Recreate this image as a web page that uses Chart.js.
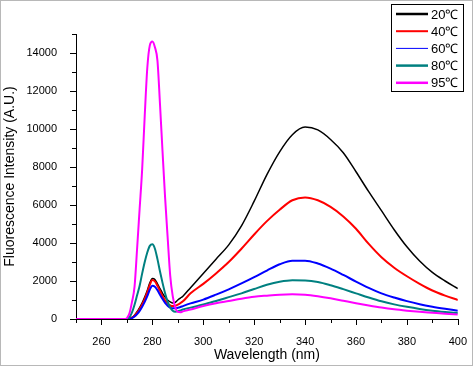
<!DOCTYPE html>
<html>
<head>
<meta charset="utf-8">
<script src="https://cdn.jsdelivr.net/npm/chart.js@4"></script>
<style>
  html, body { margin: 0; padding: 0; background: #fff; }
  canvas { display: block; }
</style>
</head>
<body>
<canvas id="chart" width="475" height="367"></canvas>
<script>
const wavelengths = [250, 260, 265, 268,
    269, 270, 271, 272, 273, 274, 275, 276, 277, 278, 279, 280,
    281, 282, 283, 284, 285, 286, 287, 288, 289, 290, 291, 292,
    295, 300, 305, 310, 315, 320, 325, 330, 335, 340, 345, 350,
    355, 360, 365, 370, 375, 380, 385, 390, 395, 400];

const labels = ['20℃', '40℃', '60℃', '80℃', '95℃'];

const t20 = [0, 0, 0, 0,
    0, 0, 20, 80, 200, 380, 600, 850, 1150, 1500, 1900, 2130,
    2080, 1850, 1600, 1350, 1150, 1000, 900, 840, 880, 1000, 1100, 1200,
    1650, 2400, 3150, 3900, 4900, 6200, 7600, 8800, 9700, 10100, 9950, 9450,
    8750, 7750, 6700, 5700, 4700, 3800, 3050, 2450, 2000, 1600];

const t40 = [0, 0, 0, 0,
    0, 0, 20, 70, 170, 330, 520, 760, 1050, 1400, 1800, 2050,
    1980, 1750, 1480, 1200, 980, 820, 720, 680, 700, 760, 840, 930,
    1350, 1850, 2400, 3000, 3700, 4450, 5150, 5750, 6250, 6400, 6250, 5900,
    5400, 4750, 3950, 3250, 2700, 2250, 1850, 1500, 1230, 1000];

const t60 = [0, 0, 0, 0,
    0, 0, 10, 50, 130, 260, 430, 650, 900, 1200, 1550, 1750,
    1700, 1520, 1280, 1050, 850, 700, 600, 560, 560, 590, 630, 680,
    820, 1020, 1280, 1560, 1870, 2200, 2550, 2880, 3070, 3070, 2920, 2650,
    2320, 1970, 1640, 1350, 1130, 940, 780, 650, 540, 440];

const t80 = [0, 0, 0, 0,
    0, 0, 100, 350, 750, 1250, 1750, 2400, 3000, 3500, 3850, 3930,
    3700, 3150, 2500, 1900, 1350, 900, 600, 430, 380, 400, 450, 500,
    600, 760, 950, 1150, 1350, 1580, 1800, 1960, 2040, 2030, 1950, 1780,
    1570, 1350, 1130, 930, 770, 640, 530, 440, 370, 310];

const t95 = [0, 0, 0, 0,
    0, 50, 300, 900, 1700, 3700, 5800, 7900, 10700, 13200, 14400, 14600,
    14300, 13600, 11300, 8800, 6400, 4300, 2300, 1200, 600, 380, 360, 400,
    500, 680, 830, 950, 1070, 1170, 1230, 1280, 1300, 1280, 1200, 1090,
    960, 830, 710, 600, 510, 440, 380, 330, 280, 240];

const yTickValues = [0, 2000, 4000, 6000, 8000, 10000, 12000, 14000];
const xTickValues = [260, 280, 300, 320, 340, 360, 380, 400];

const series = [t20, t40, t60, t80, t95];
const colors = ['#000000', '#ff0000', '#0000ff', '#008080', '#ff00ff'];
const lineWidths = [1.5, 2, 2, 2, 2];
const legendWidths = [2.5, 2, 1, 2.5, 2.5];

const font = '"Liberation Sans", Arial, sans-serif';

const datasets = series.map((vals, i) => ({
    label: labels[i],
    data: vals.map((v, j) => ({ x: wavelengths[j], y: v })),
    borderColor: colors[i],
    borderWidth: lineWidths[i],
    pointRadius: 0,
    fill: false,
    cubicInterpolationMode: 'monotone',
    order: series.length - i
}));

// frame, minor/major tick marks and the boxed legend
const decorations = {
    id: 'decorations',
    beforeDraw(chart) {
        const ctx = chart.ctx;
        ctx.save();
        ctx.fillStyle = '#fff';
        ctx.fillRect(0, 0, chart.width, chart.height);
        ctx.strokeStyle = '#b8b8b8';
        ctx.lineWidth = 1;
        ctx.strokeRect(0.5, 0.5, 472, 365);
        ctx.restore();
    },
    afterDraw(chart) {
        const ctx = chart.ctx;
        const xs = chart.scales.x, ys = chart.scales.y;
        const area = chart.chartArea;
        ctx.save();
        ctx.strokeStyle = '#000';
        ctx.lineWidth = 1;
        ctx.beginPath();
        for (let v = 0; v <= 15000; v += 1000) {
            const y = Math.round(ys.getPixelForValue(v)) + 0.5;
            const len = v % 2000 === 0 ? 6 : 4;
            ctx.moveTo(area.left - len, y);
            ctx.lineTo(area.left, y);
        }
        for (let v = 250; v <= 400; v += 10) {
            const x = Math.round(xs.getPixelForValue(v)) + 0.5;
            const len = v % 20 === 0 ? 6 : 4;
            ctx.moveTo(x, area.bottom);
            ctx.lineTo(x, area.bottom + len);
        }
        ctx.stroke();

        // legend
        const bx = 391, by = 4, bw = 72, bh = 87;
        ctx.fillStyle = '#fff';
        ctx.fillRect(bx, by, bw, bh);
        ctx.strokeRect(bx + 0.5, by + 0.5, bw, bh);
        ctx.font = '13px ' + font;
        ctx.textBaseline = 'middle';
        chart.data.datasets.forEach((ds, i) => {
            const y = 14 + i * 17.2;
            ctx.strokeStyle = ds.borderColor;
            ctx.lineWidth = legendWidths[i];
            ctx.beginPath();
            ctx.moveTo(396, y);
            ctx.lineTo(428, y);
            ctx.stroke();
            ctx.fillStyle = '#000';
            ctx.fillText(ds.label, 431, y + 1);
        });
        ctx.restore();
    }
};

new Chart(document.getElementById('chart'), {
    type: 'line',
    data: { datasets },
    plugins: [decorations],
    options: {
        responsive: false,
        animation: false,
        devicePixelRatio: 1,
        layout: { padding: { top: 34, right: 13, left: 0, bottom: 0 } },
        plugins: {
            legend: { display: false },
            tooltip: { enabled: false }
        },
        scales: {
            x: {
                type: 'linear',
                min: 250,
                max: 400,
                afterFit: s => { s.height = 48; },
                afterBuildTicks: s => { s.ticks = xTickValues.map(v => ({ value: v })); },
                grid: { display: false },
                border: { display: true, color: '#000', width: 1 },
                ticks: {
                    color: '#000',
                    font: { family: font, size: 11 },
                    padding: 8,
                    maxRotation: 0,
                    callback: v => String(v)
                },
                title: {
                    display: true,
                    text: 'Wavelength (nm)',
                    color: '#000',
                    font: { family: font, size: 14 },
                    padding: { top: 0, bottom: 3 }
                }
            },
            y: {
                min: 0,
                max: 15000,
                afterFit: s => { s.width = 76; },
                afterBuildTicks: s => { s.ticks = yTickValues.map(v => ({ value: v })); },
                grid: { display: false },
                border: { display: true, color: '#000', width: 1 },
                ticks: {
                    color: '#000',
                    font: { family: font, size: 11 },
                    padding: 11,
                    callback: v => String(v)
                },
                title: {
                    display: true,
                    text: 'Fluorescence Intensity (A.U.)',
                    color: '#000',
                    font: { family: font, size: 14 },
                    padding: { top: 2, bottom: 0 }
                }
            }
        }
    }
});
</script>
</body>
</html>
